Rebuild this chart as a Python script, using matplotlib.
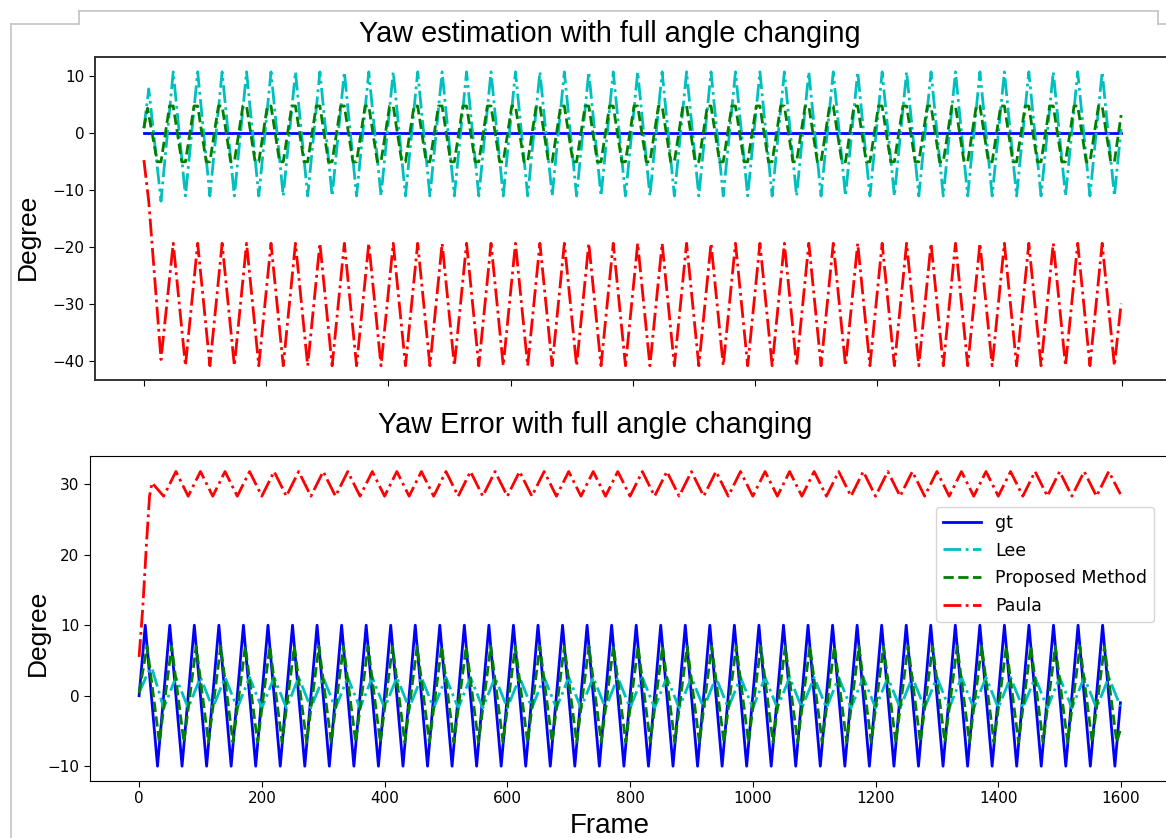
import matplotlib
matplotlib.use("Agg")
import matplotlib.pyplot as plt
from matplotlib.lines import Line2D

# ---------------- data (extreme points) ----------------
TOP_FRAMES = [0,
    8, 28, 48, 68, 88, 108, 128, 148, 168, 188,
    208, 228, 248, 268, 288, 308, 328, 348, 368, 388,
    408, 428, 448, 468, 488, 508, 528, 548, 568, 588,
    608, 628, 648, 668, 688, 708, 728, 748, 768, 788,
    808, 828, 848, 868, 888, 908, 928, 948, 968, 988,
    1008, 1028, 1048, 1068, 1088, 1108, 1128, 1148, 1168, 1188,
    1208, 1228, 1248, 1268, 1288, 1308, 1328, 1348, 1368, 1388,
    1408, 1428, 1448, 1468, 1488, 1508, 1528, 1548, 1568, 1588,
    1599]

TOP_LEE = [0.9,
    7.8, -11.9, 10.8, -11.0, 10.8, -11.0, 10.8, -11.0, 10.8, -11.0,
    10.8, -11.0, 10.8, -11.0, 10.8, -11.0, 10.8, -11.0, 10.8, -11.0,
    10.8, -11.0, 10.8, -11.0, 10.8, -11.0, 10.8, -11.0, 10.8, -11.0,
    10.8, -11.0, 10.8, -11.0, 10.8, -11.0, 10.8, -11.0, 10.8, -11.0,
    10.8, -11.0, 10.8, -11.0, 10.8, -11.0, 10.8, -11.0, 10.8, -11.0,
    10.8, -11.0, 10.8, -11.0, 10.8, -11.0, 10.8, -11.0, 10.8, -11.0,
    10.8, -11.0, 10.8, -11.0, 10.8, -11.0, 10.8, -11.0, 10.8, -11.0,
    10.8, -11.0, 10.8, -11.0, 10.8, -11.0, 10.8, -11.0, 10.8, -11.0,
    0.8]

TOP_PAULA = [-4.7,
    -12.0, -39.7, -19.3, -40.8, -19.3, -40.8, -19.3, -40.8, -19.3, -40.8,
    -19.3, -40.8, -19.3, -40.8, -19.3, -40.8, -19.3, -40.8, -19.3, -40.8,
    -19.3, -40.8, -19.3, -40.8, -19.3, -40.8, -19.3, -40.8, -19.3, -40.8,
    -19.3, -40.8, -19.3, -40.8, -19.3, -40.8, -19.3, -40.8, -19.3, -40.8,
    -19.3, -40.8, -19.3, -40.8, -19.3, -40.8, -19.3, -40.8, -19.3, -40.8,
    -19.3, -40.8, -19.3, -40.8, -19.3, -40.8, -19.3, -40.8, -19.3, -40.8,
    -19.3, -40.8, -19.3, -40.8, -19.3, -40.8, -19.3, -40.8, -19.3, -40.8,
    -19.3, -40.8, -19.3, -40.8, -19.3, -40.8, -19.3, -40.8, -19.3, -40.8,
    -29.9]

TOP_GT_FRAMES = [0, 1599]
TOP_GT = [0.0, 0.0]

TOP_PROP_FRAMES = [
    0, 6, 22, 28, 42, 48, 62, 68, 82, 88, 102, 108, 122, 128, 142, 148, 162, 168, 182, 188,
    202, 208, 222, 228, 242, 248, 262, 268, 282, 288, 302, 308, 322, 328, 342, 348, 362, 368, 382, 388,
    402, 408, 422, 428, 442, 448, 462, 468, 482, 488, 502, 508, 522, 528, 542, 548, 562, 568, 582, 588,
    602, 608, 622, 628, 642, 648, 662, 668, 682, 688, 702, 708, 722, 728, 742, 748, 762, 768, 782, 788,
    802, 808, 822, 828, 842, 848, 862, 868, 882, 888, 902, 908, 922, 928, 942, 948, 962, 968, 982, 988,
    1002, 1008, 1022, 1028, 1042, 1048, 1062, 1068, 1082, 1088, 1102, 1108, 1122, 1128, 1142, 1148, 1162, 1168, 1182, 1188,
    1202, 1208, 1222, 1228, 1242, 1248, 1262, 1268, 1282, 1288, 1302, 1308, 1322, 1328, 1342, 1348, 1362, 1368, 1382, 1388,
    1402, 1408, 1422, 1428, 1442, 1448, 1462, 1468, 1482, 1488, 1502, 1508, 1522, 1528, 1542, 1548, 1562, 1568, 1582, 1588,
    1599]

TOP_PROP = [
    0.9, 4.4, -5.0, -5.0, 4.8, 4.8, -5.0, -5.0, 4.8, 4.8, -5.0, -5.0, 4.8, 4.8, -5.0, -5.0, 4.8, 4.8, -5.0, -5.0,
    4.8, 4.8, -5.0, -5.0, 4.8, 4.8, -5.0, -5.0, 4.8, 4.8, -5.0, -5.0, 4.8, 4.8, -5.0, -5.0, 4.8, 4.8, -5.0, -5.0,
    4.8, 4.8, -5.0, -5.0, 4.8, 4.8, -5.0, -5.0, 4.8, 4.8, -5.0, -5.0, 4.8, 4.8, -5.0, -5.0, 4.8, 4.8, -5.0, -5.0,
    4.8, 4.8, -5.0, -5.0, 4.8, 4.8, -5.0, -5.0, 4.8, 4.8, -5.0, -5.0, 4.8, 4.8, -5.0, -5.0, 4.8, 4.8, -5.0, -5.0,
    4.8, 4.8, -5.0, -5.0, 4.8, 4.8, -5.0, -5.0, 4.8, 4.8, -5.0, -5.0, 4.8, 4.8, -5.0, -5.0, 4.8, 4.8, -5.0, -5.0,
    4.8, 4.8, -5.0, -5.0, 4.8, 4.8, -5.0, -5.0, 4.8, 4.8, -5.0, -5.0, 4.8, 4.8, -5.0, -5.0, 4.8, 4.8, -5.0, -5.0,
    4.8, 4.8, -5.0, -5.0, 4.8, 4.8, -5.0, -5.0, 4.8, 4.8, -5.0, -5.0, 4.8, 4.8, -5.0, -5.0, 4.8, 4.8, -5.0, -5.0,
    4.8, 4.8, -5.0, -5.0, 4.8, 4.8, -5.0, -5.0, 4.8, 4.8, -5.0, -5.0, 4.8, 4.8, -5.0, -5.0, 4.8, 4.8, -5.0, -5.0,
    3.2]

BOT_GT_FRAMES = [0,
    10, 30, 50, 70, 90, 110, 130, 150, 170, 190,
    210, 230, 250, 270, 290, 310, 330, 350, 370, 390,
    410, 430, 450, 470, 490, 510, 530, 550, 570, 590,
    610, 630, 650, 670, 690, 710, 730, 750, 770, 790,
    810, 830, 850, 870, 890, 910, 930, 950, 970, 990,
    1010, 1030, 1050, 1070, 1090, 1110, 1130, 1150, 1170, 1190,
    1210, 1230, 1250, 1270, 1290, 1310, 1330, 1350, 1370, 1390,
    1410, 1430, 1450, 1470, 1490, 1510, 1530, 1550, 1570, 1590,
    1599]
BOT_GT = [0.0,
    10, -10, 10, -10, 10, -10, 10, -10, 10, -10,
    10, -10, 10, -10, 10, -10, 10, -10, 10, -10,
    10, -10, 10, -10, 10, -10, 10, -10, 10, -10,
    10, -10, 10, -10, 10, -10, 10, -10, 10, -10,
    10, -10, 10, -10, 10, -10, 10, -10, 10, -10,
    10, -10, 10, -10, 10, -10, 10, -10, 10, -10,
    10, -10, 10, -10, 10, -10, 10, -10, 10, -10,
    10, -10, 10, -10, 10, -10, 10, -10, 10, -10,
    -1.0]

BOT_PROP_FRAMES = [0,
    13, 33, 53, 73, 93, 113, 133, 153, 173, 193,
    213, 233, 253, 273, 293, 313, 333, 353, 373, 393,
    413, 433, 453, 473, 493, 513, 533, 553, 573, 593,
    613, 633, 653, 673, 693, 713, 733, 753, 773, 793,
    813, 833, 853, 873, 893, 913, 933, 953, 973, 993,
    1013, 1033, 1053, 1073, 1093, 1113, 1133, 1153, 1173, 1193,
    1213, 1233, 1253, 1273, 1293, 1313, 1333, 1353, 1373, 1393,
    1413, 1433, 1453, 1473, 1493, 1513, 1533, 1553, 1573, 1593,
    1599]
BOT_PROP = [0.4,
    7.0, -6.6, 7.0, -6.6, 7.0, -6.6, 7.0, -6.6, 7.0, -6.6,
    7.0, -6.6, 7.0, -6.6, 7.0, -6.6, 7.0, -6.6, 7.0, -6.6,
    7.0, -6.6, 7.0, -6.6, 7.0, -6.6, 7.0, -6.6, 7.0, -6.6,
    7.0, -6.6, 7.0, -6.6, 7.0, -6.6, 7.0, -6.6, 7.0, -6.6,
    7.0, -6.6, 7.0, -6.6, 7.0, -6.6, 7.0, -6.6, 7.0, -6.6,
    7.0, -6.6, 7.0, -6.6, 7.0, -6.6, 7.0, -6.6, 7.0, -6.6,
    7.0, -6.6, 7.0, -6.6, 7.0, -6.6, 7.0, -6.6, 7.0, -6.6,
    7.0, -6.6, 7.0, -6.6, 7.0, -6.6, 7.0, -6.6, 7.0, -6.6,
    -4.8]

BOT_FRAMES = [0, 6, 12, 17, 21,
    40, 60, 80, 100, 120, 140, 160, 180, 200, 220,
    240, 260, 280, 300, 320, 340, 360, 380, 400, 420,
    440, 460, 480, 500, 520, 540, 560, 580, 600, 620,
    640, 660, 680, 700, 720, 740, 760, 780, 800, 820,
    840, 860, 880, 900, 920, 940, 960, 980, 1000, 1020,
    1040, 1060, 1080, 1100, 1120, 1140, 1160, 1180, 1200, 1220,
    1240, 1260, 1280, 1300, 1320, 1340, 1360, 1380, 1400, 1420,
    1440, 1460, 1480, 1500, 1520, 1540, 1560, 1580,
    1599]
BOT_PAULA = [5.5, 12.5, 21.5, 28.3, 30.2,
    28.3, 31.8, 28.3, 31.8, 28.3, 31.8, 28.3, 31.8, 28.3, 31.8,
    28.3, 31.8, 28.3, 31.8, 28.3, 31.8, 28.3, 31.8, 28.3, 31.8,
    28.3, 31.8, 28.3, 31.8, 28.3, 31.8, 28.3, 31.8, 28.3, 31.8,
    28.3, 31.8, 28.3, 31.8, 28.3, 31.8, 28.3, 31.8, 28.3, 31.8,
    28.3, 31.8, 28.3, 31.8, 28.3, 31.8, 28.3, 31.8, 28.3, 31.8,
    28.3, 31.8, 28.3, 31.8, 28.3, 31.8, 28.3, 31.8, 28.3, 31.8,
    28.3, 31.8, 28.3, 31.8, 28.3, 31.8, 28.3, 31.8, 28.3, 31.8,
    28.3, 31.8, 28.3, 31.8, 28.3, 31.8, 28.3, 31.8,
    28.6]
BOT_LEE = [0.4, 1.6, 2.8, 3.6, 3.9,
    -1.75, 2.6, -1.75, 2.6, -1.75, 2.6, -1.75, 2.6, -1.75, 2.6,
    -1.75, 2.6, -1.75, 2.6, -1.75, 2.6, -1.75, 2.6, -1.75, 2.6,
    -1.75, 2.6, -1.75, 2.6, -1.75, 2.6, -1.75, 2.6, -1.75, 2.6,
    -1.75, 2.6, -1.75, 2.6, -1.75, 2.6, -1.75, 2.6, -1.75, 2.6,
    -1.75, 2.6, -1.75, 2.6, -1.75, 2.6, -1.75, 2.6, -1.75, 2.6,
    -1.75, 2.6, -1.75, 2.6, -1.75, 2.6, -1.75, 2.6, -1.75, 2.6,
    -1.75, 2.6, -1.75, 2.6, -1.75, 2.6, -1.75, 2.6, -1.75, 2.6,
    -1.75, 2.6, -1.75, 2.6, -1.75, 2.6, -1.75, 2.6,
    -1.5]

SERIES_NAMES = ["gt", "Lee", "Proposed Method", "Paula"]
TITLE_TOP = "Yaw estimation with full angle changing"
TITLE_BOT = "Yaw Error with full angle changing"
XLABEL = "Frame"
YLABEL = "Degree"
XTICKS = [0, 200, 400, 600, 800, 1000, 1200, 1400, 1600]
YTICKS_TOP = [-40, -30, -20, -10, 0, 10]
YTICKS_BOT = [-10, 0, 10, 20, 30]

# ---------------- figure ----------------
W, H = 1166, 838
fig = plt.figure(figsize=(W / 100, H / 100), dpi=100)


def fx(px):
    return px / W


def fy(py):
    return 1 - py / H


LW = 2.0
ax1 = fig.add_axes([fx(95), fy(380), 1075 / W, 323 / H])
ax2 = fig.add_axes([fx(90), fy(781), 1079.5 / W, 325 / H])

ax1.plot(TOP_GT_FRAMES, TOP_GT, color="b", ls="-", lw=LW, label=SERIES_NAMES[0])
ax1.plot(TOP_FRAMES, TOP_LEE, color="c", ls="-.", lw=LW, label=SERIES_NAMES[1])
ax1.plot(TOP_PROP_FRAMES, TOP_PROP, color="g", ls="--", lw=LW, label=SERIES_NAMES[2])
ax1.plot(TOP_FRAMES, TOP_PAULA, color="r", ls="-.", lw=LW, label=SERIES_NAMES[3])

ax2.plot(BOT_GT_FRAMES, BOT_GT, color="b", ls="-", lw=LW, label=SERIES_NAMES[0])
ax2.plot(BOT_FRAMES, BOT_LEE, color="c", ls="-.", lw=LW, label=SERIES_NAMES[1])
ax2.plot(BOT_PROP_FRAMES, BOT_PROP, color="g", ls="--", lw=LW, label=SERIES_NAMES[2])
ax2.plot(BOT_FRAMES, BOT_PAULA, color="r", ls="-.", lw=LW, label=SERIES_NAMES[3])

for ax in (ax1, ax2):
    ax.set_xlim(-80, 1679)
    ax.set_xticks(XTICKS)
    ax.tick_params(labelsize=11, length=4)
ax1.set_ylim(-43.3, 13.4)
ax1.set_yticks(YTICKS_TOP)
ax1.tick_params(labelbottom=False)
for s in ax1.spines.values():
    s.set_color("#333333")
    s.set_linewidth(1.4)
ax2.set_ylim(-12.1, 34.0)
ax2.set_yticks(YTICKS_BOT)

leg = ax2.legend(loc="upper right", bbox_to_anchor=(0.9857, 0.843), borderaxespad=0,
                 fontsize=12.5, handlelength=2.2, labelspacing=0.55)

tfont = dict(family=["Liberation Sans", "DejaVu Sans"])
fig.text(fx(609.5), fy(34), TITLE_TOP, ha="center", va="center", fontsize=20.8, **tfont)
fig.text(fx(595), fy(425), TITLE_BOT, ha="center", va="center", fontsize=20.8, **tfont)
fig.text(fx(610), fy(826), XLABEL, ha="center", va="center", fontsize=20, **tfont)
fig.text(fx(28), fy(237), YLABEL, ha="center", va="center", rotation=90, fontsize=19, **tfont)
fig.text(fx(38), fy(633), YLABEL, ha="center", va="center", rotation=90, fontsize=19, **tfont)

# gray screenshot frame lines
gray = "#c4c4c4"
for xs, ys in [((11, 11), (24, 838)), ((11, 79), (24, 24)), ((79, 79), (11, 24)),
               ((79, 1158), (11, 11)), ((1158, 1158), (11, 24)), ((1158, 1166), (24, 24))]:
    fig.add_artist(Line2D([fx(x) for x in xs], [fy(y) for y in ys], color=gray, lw=1.2))

fig.savefig("out.png", dpi=100)
